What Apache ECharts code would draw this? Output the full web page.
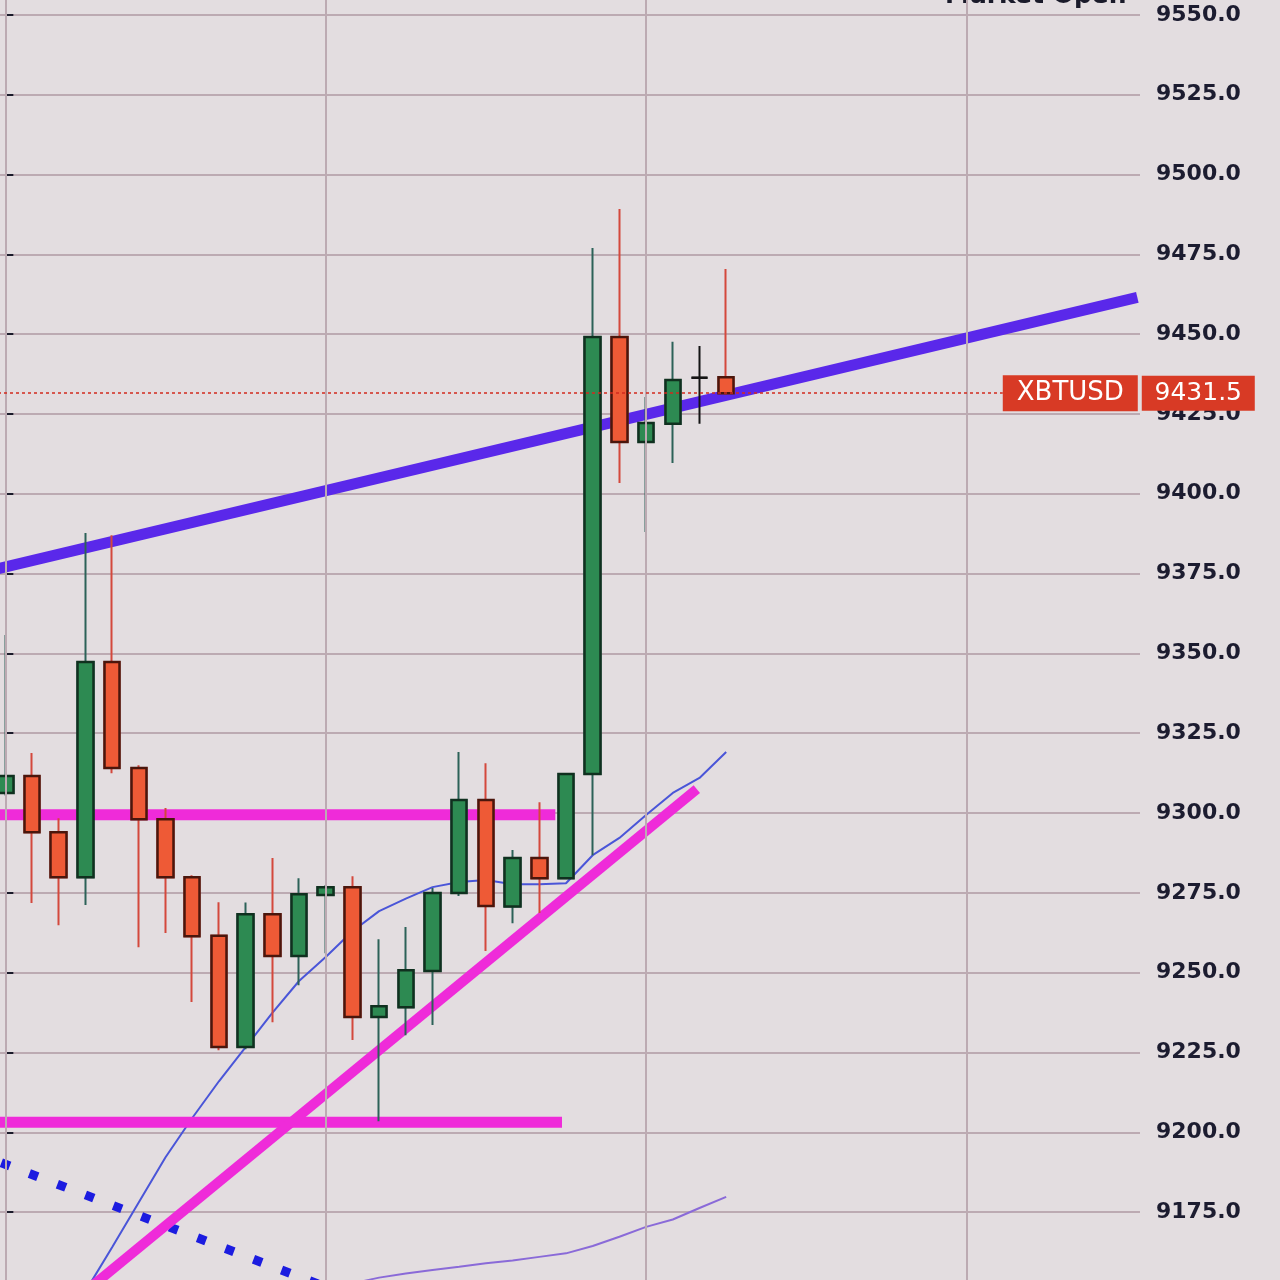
<!DOCTYPE html>
<html><head><meta charset="utf-8">
<script src="https://cdn.jsdelivr.net/npm/echarts@6/dist/echarts.min.js"></script>
<style>html,body{margin:0;padding:0;background:#e2dcdf;overflow:hidden;width:1280px;height:1280px;position:relative;}
#c{position:absolute;left:-8px;top:-65px;width:1288px;height:1357px;}</style>
</head><body><div id="c"></div>
<script>
// ---- data ----
const categories = ['1','2','3','4','5','6','7','8','9','10','11','12','13','14','15','16','17','18','19','20','21','22','23','24','25','26','27','28','29','30','31','32','33','34','35','36','37','38','39','40','41','42','43'];
const opens  = [9306.3,9311.6,9294.0,9279.9,9347.3,9314.1,9298.1,9279.9,9261.6,9226.7,9268.3,9255.2,9274.3,9276.8,9236.1,9239.2,9250.5,9275.0,9304.1,9270.7,9285.9,9279.6,9312.2,9449.1,9416.2,9421.9,9436.3,9436.5];
const closes = [9311.6,9294.0,9279.9,9347.3,9314.1,9298.1,9279.9,9261.4,9226.7,9268.3,9255.2,9274.6,9276.8,9236.1,9239.5,9250.8,9275.0,9304.1,9270.9,9285.9,9279.6,9312.2,9449.1,9416.2,9422.2,9435.6,9436.3,9431.5];
const lows   = [9305.5,9271.8,9264.9,9271.2,9312.5,9258.0,9262.4,9240.8,9225.7,9226.0,9234.5,9246.1,9256.1,9228.9,9203.5,9230.4,9233.6,9274.0,9256.8,9265.5,9268.7,9279.3,9286.8,9403.4,9388.0,9409.6,9421.9,9431.0];
const highs  = [9355.8,9318.8,9298.4,9387.7,9387.0,9315.0,9301.6,9280.5,9272.1,9272.0,9285.9,9279.6,9277.5,9280.2,9260.5,9264.3,9276.5,9319.1,9315.6,9288.4,9303.4,9312.5,9477.0,9489.2,9430.3,9447.6,9446.3,9470.4];
const maFast = [9108,9122,9136,9150.2,9164,9178.1,9192.2,9204.5,9216,9226.7,9237.4,9247.4,9254.9,9263,9269.3,9273.2,9276.8,9278.4,9279,9277.7,9277.7,9278,9286.8,9292.2,9299.4,9306.3,9311,9319.1];
const maSlow = [null,null,null,null,null,null,null,null,null,null,null,9148,9150.5,9152.7,9154.5,9155.8,9156.9,9157.9,9159,9159.9,9161,9162.1,9164.4,9167.3,9170.4,9172.7,9176.3,9179.8];
const resistanceLine = [[-0.3,9376.5],[42.4,9461.5]];
const supportUpper = [[-0.5,9299.5],[20.6,9299.5]];
const supportLower = [[-0.5,9203.2],[20.85,9203.2]];
const risingLine = [[3.2,9151.5],[25.9,9307.5]];
const dottedLine = [[-0.5,9191.6],[13,9148.4]];
const gridVerticals = [0,12,24,36];
const yTicks = {min:9150, max:9575, step:25};
const symbolName = 'XBTUSD';
const lastPrice = 9431.5;
const priceLineEnd = 37.36;

// ---- derived ----
const ohlc = opens.map((o,i)=>[o, closes[i], lows[i], highs[i]]);
const bodies = opens.map((o,i)=>[o, closes[i], Math.min(o,closes[i]), Math.max(o,closes[i])]);

const FONT = 'DejaVu Sans';
const GRID = '#bcaab2';
const PINK = '#ef2bd9';

const chart = echarts.init(document.getElementById('c'));
chart.setOption({
  animation:false,
  backgroundColor:'#e3dde0',
  grid:{left:0, right:140, top:0, bottom:0, containLabel:false, outerBoundsMode:'none'},
  xAxis:[
    {type:'category', data:categories, boundaryGap:true, show:false},
    {type:'value', min:-0.5, max:42.5, show:false}
  ],
  yAxis:{
    type:'value', position:'right', min:yTicks.min, max:yTicks.max, interval:yTicks.step,
    axisLine:{show:true, lineStyle:{color:'#1b2e7a', width:2}},
    axisTick:{show:true, inside:false, length:8, lineStyle:{color:'#1a1a2a', width:2}},
    axisLabel:{margin:16, color:'#1c1c30', fontFamily:FONT, fontWeight:'bold', fontSize:22,
      formatter:v=>v.toFixed(1)},
    splitLine:{show:true, lineStyle:{color:GRID, width:2}}
  },
  graphic:[{type:'text', left:953, top:49, style:{text:'Market Open', fill:'#1a1a2a', font:'bold 25px "DejaVu Sans"'}}],
  series:[
    {type:'line', xAxisIndex:1, data:[], z:0, silent:true,
      markLine:{symbol:['none','none'], silent:true, label:{show:false},
        lineStyle:{color:GRID, width:2, type:'solid'},
        data:gridVerticals.map(v=>({xAxis:v}))}},
    {type:'line', xAxisIndex:1, data:dottedLine, showSymbol:false, z:1, silent:true,
      lineStyle:{color:'#1c1ce0', width:9, type:[9,21], dashOffset:20, cap:'butt'}},
    {type:'line', xAxisIndex:0, data:maSlow, showSymbol:false, z:1, silent:true,
      lineStyle:{color:'#8a6ad8', width:2}},
    {type:'line', xAxisIndex:0, data:maFast, showSymbol:false, z:1, silent:true,
      lineStyle:{color:'#4a55d8', width:2}},
    {type:'line', xAxisIndex:1, data:supportUpper, showSymbol:false, z:2, silent:true,
      lineStyle:{color:PINK, width:11, cap:'butt'}},
    {type:'line', xAxisIndex:1, data:supportLower, showSymbol:false, z:2, silent:true,
      lineStyle:{color:PINK, width:11, cap:'butt'}},
    {type:'line', xAxisIndex:1, data:risingLine, showSymbol:false, z:2, silent:true,
      lineStyle:{color:PINK, width:10, cap:'butt'}},
    {type:'line', xAxisIndex:1, data:resistanceLine, showSymbol:false, z:2, silent:true,
      lineStyle:{color:'#5a28ea', width:11, cap:'butt'}},
    {type:'candlestick', xAxisIndex:0, data:ohlc, barWidth:16, z:3, silent:true,
      itemStyle:{color:'#2d8a52', color0:'#ee5a36', borderColor:'#2c6258', borderColor0:'#d4483c', borderColorDoji:'#141414', borderWidth:2}},
    {type:'candlestick', xAxisIndex:0, data:bodies, barWidth:16, z:4, silent:true,
      itemStyle:{color:'#2d8a52', color0:'#ee5a36', borderColor:'#10301f', borderColor0:'#4a160c', borderColorDoji:'#141414', borderWidth:2.5}},
    {type:'line', xAxisIndex:1, data:[], z:6, silent:true,
      markLine:{symbol:['none','none'], silent:true,
        lineStyle:{color:'#d22a1e', width:1.5, type:[3,3]},
        label:{show:true, position:'end', distance:0,
          formatter:'{a|'+symbolName+'}{g|}{b|'+lastPrice.toFixed(1)+'}',
          rich:{
            a:{backgroundColor:'#d83a25', color:'#fff', fontFamily:FONT, fontSize:26, lineHeight:30, padding:[5,8], width:119, align:'center'},
            g:{width:4},
            b:{backgroundColor:'#d83a25', color:'#fff', fontFamily:FONT, fontSize:25, lineHeight:30, padding:[5,8], width:97, align:'center'}
          }},
        data:[[{coord:[-0.5,lastPrice]},{coord:[priceLineEnd,lastPrice]}]]}}
  ]
});
</script></body></html>
